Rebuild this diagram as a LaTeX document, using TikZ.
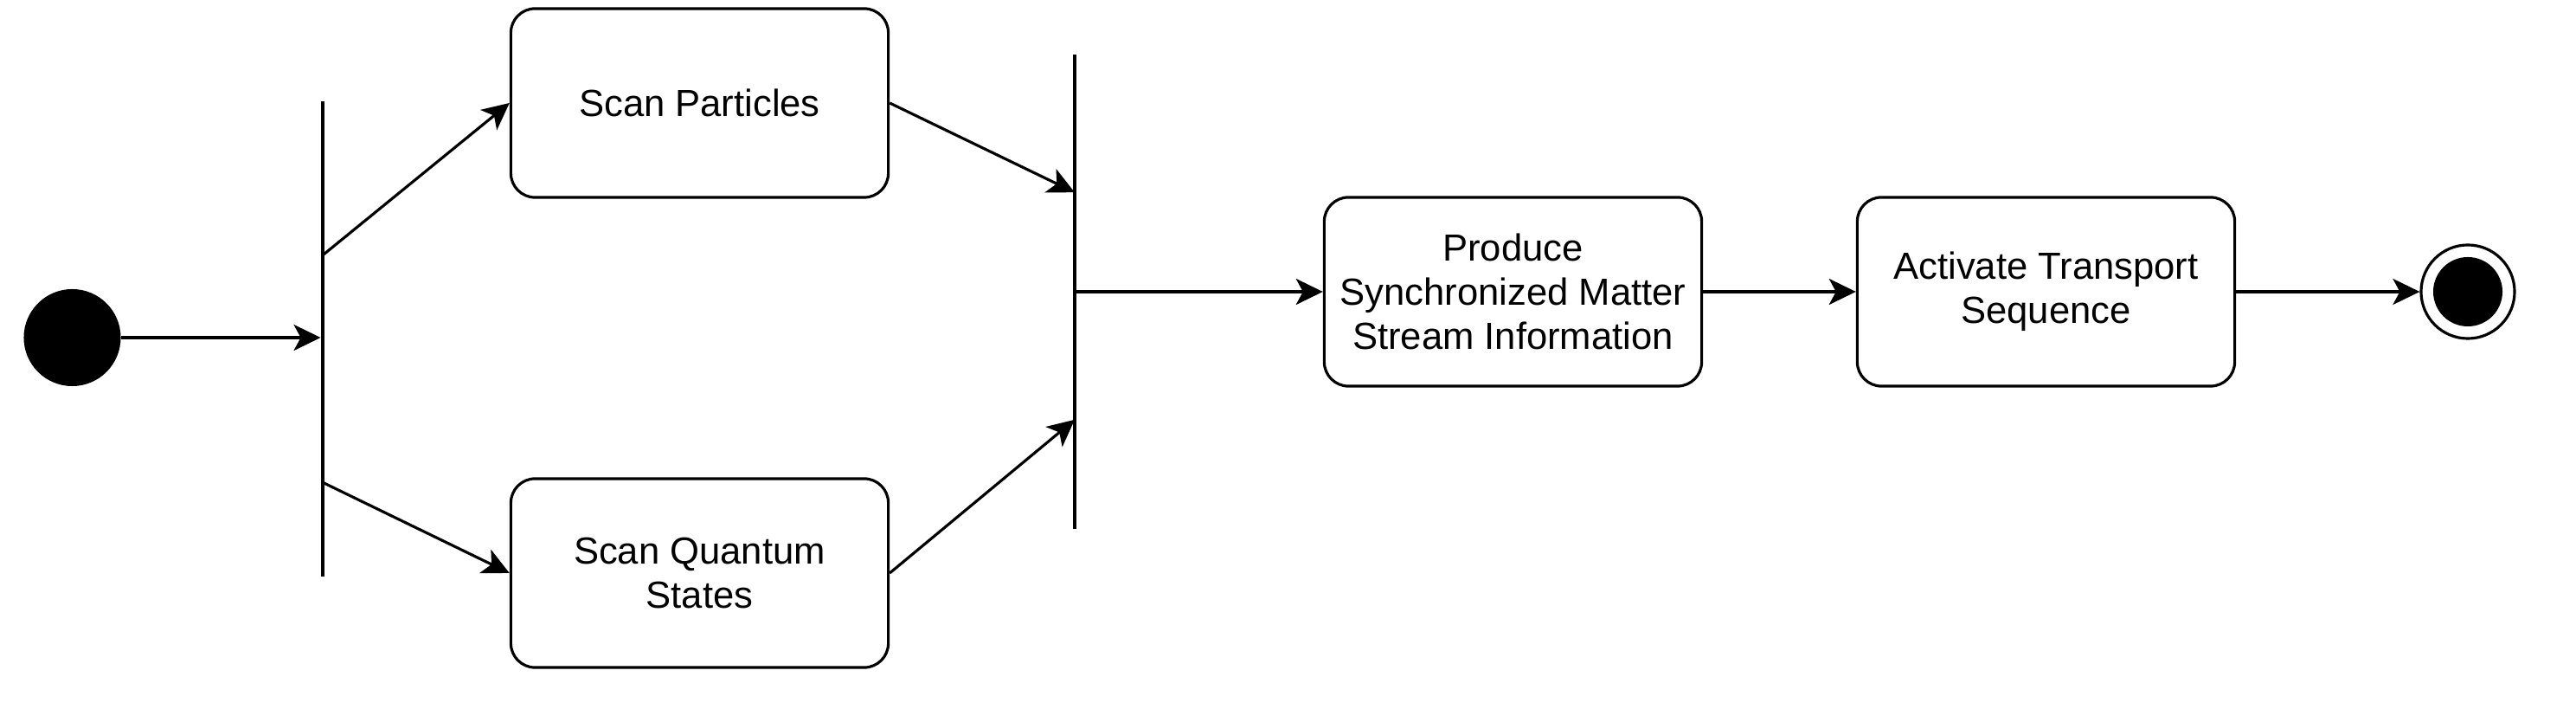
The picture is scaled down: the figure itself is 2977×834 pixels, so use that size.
\documentclass[tikz,border=0pt]{standalone}
\usepackage{fontspec}
\setmainfont{Liberation Sans}
\usetikzlibrary{positioning,arrows.meta,calc}

\begin{document}
\begin{tikzpicture}[
    x=0.01cm, y=-0.01cm,
    action/.style={draw, rounded corners=0.28cm, minimum width=4.36cm, minimum height=2.18cm, align=center, inner sep=0.5pt, font=\fontsize{12.4}{14.4}\selectfont, line width=0.9pt},
    bar/.style={fill=black, inner sep=0pt, minimum width=0.035cm, minimum height=5.48cm},
    arr/.style={-{Stealth[length=3.1mm, width=3mm, inset=0.8mm]}, line width=0.9pt}
]
\useasboundingbox (0,0) rectangle (2977,834);
\node[circle, fill=black, minimum size=1.12cm, inner sep=0pt] (start) at (83.5,390) {};
\node[bar] (fork) at (373,391.5) {};
\node[action] (scanpart) at (808.5,119) {Scan Particles};
\node[action] (scanquant) at (808.5,662) {Scan Quantum\\States};
\node[bar] (join) at (1242,337) {};
\node[action] (produce) at (1748.5,337) {Produce\\Synchronized Matter\\Stream Information};
\node[action] (transport) at (2364.5,337) {Activate Transport\\Sequence};
\node[circle, draw, line width=0.9pt, minimum size=1.08cm, inner sep=0pt] (finish) at (2852,337) {};
\node[circle, fill=black, minimum size=0.8cm, inner sep=0pt] (finishdot) at (finish) {};
\draw[arr] (start) -- (start -| fork.west);
\draw[arr] ([yshift=-1.78cm]fork.north) -- (scanpart.west);
\draw[arr] ([yshift=1.09cm]fork.south) -- (scanquant.west);
\draw[arr] (scanpart.east) -- ([yshift=-1.60cm]join.north);
\draw[arr] (scanquant.east) -- ([yshift=1.27cm]join.south);
\draw[arr] (join) -- (produce.west);
\draw[arr] (produce) -- (transport);
\draw[arr] (transport) -- (finish);
\end{tikzpicture}
\end{document}
